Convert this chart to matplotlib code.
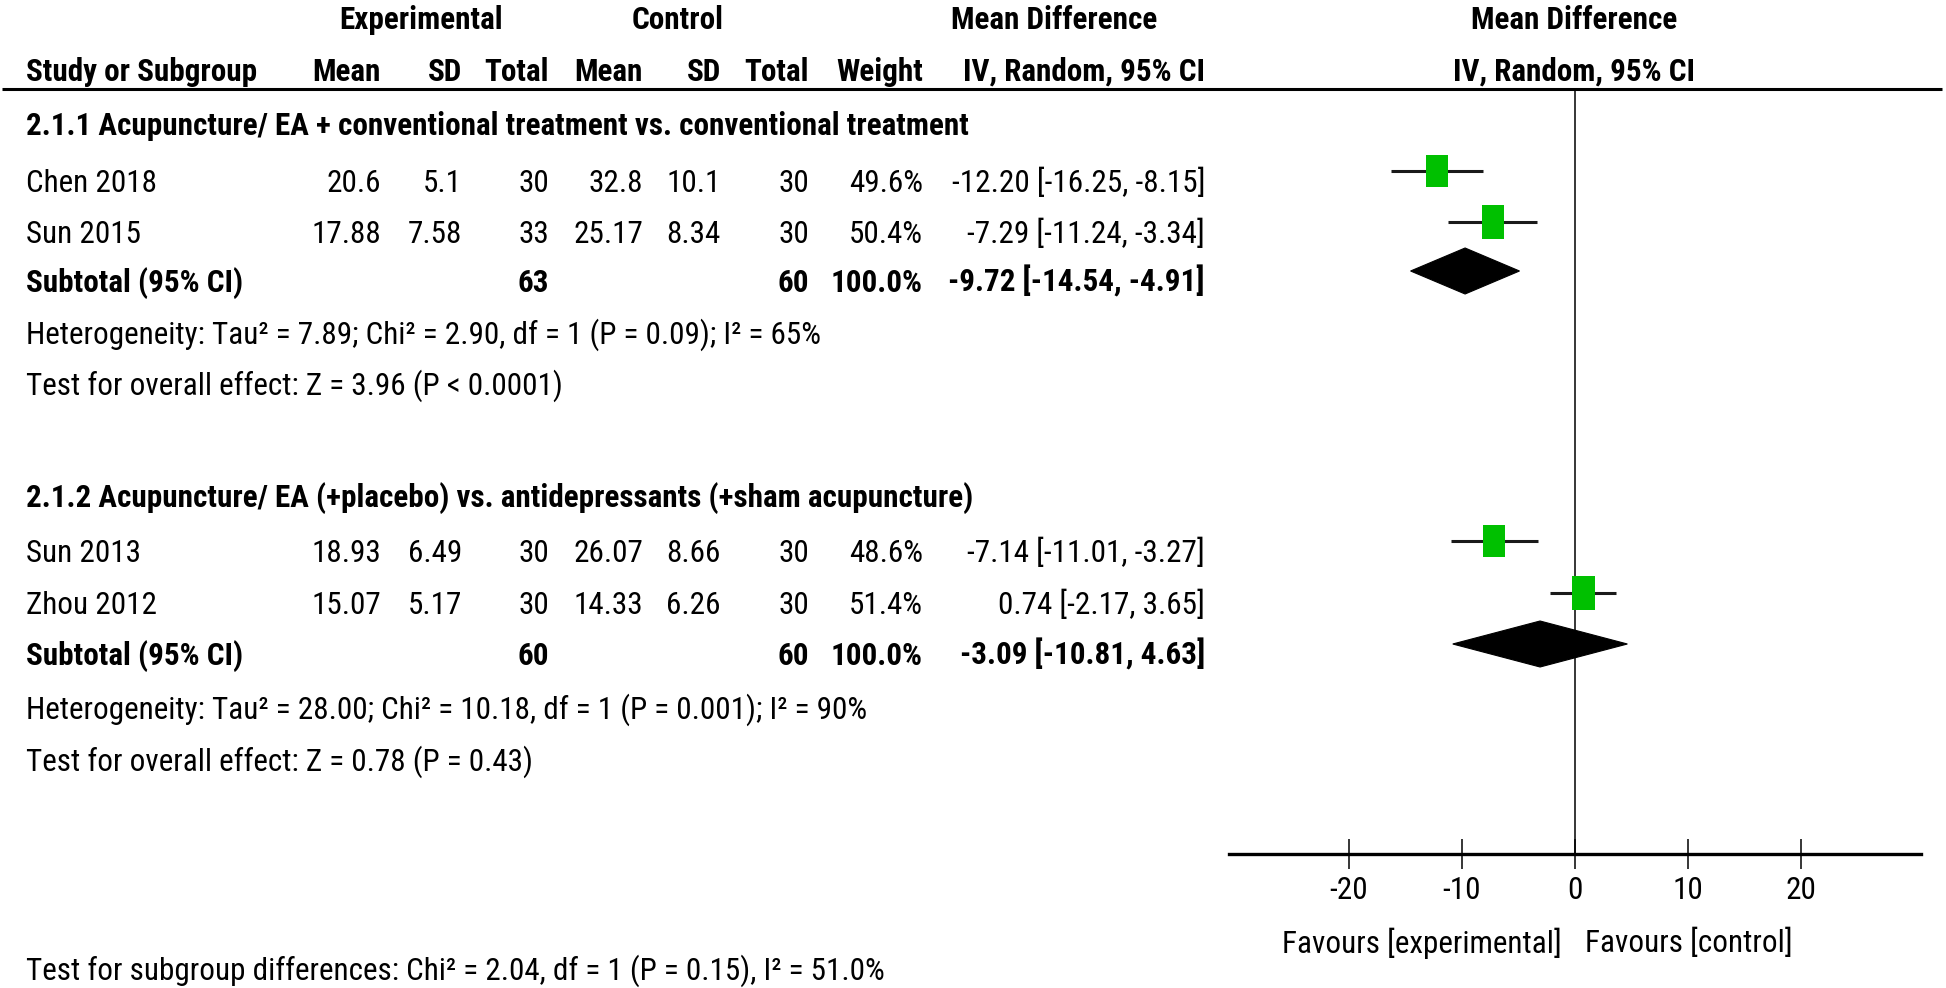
import matplotlib
matplotlib.use("Agg")
import matplotlib.pyplot as plt
from matplotlib import font_manager
from matplotlib.patches import Rectangle, Polygon

# ── Data ─────────────────────────────────────────────────────────────────────
studies   = ["Chen 2018", "Sun 2015", "Sun 2013", "Zhou 2012"]
exp_mean  = ["20.6", "17.88", "18.93", "15.07"]
exp_sd    = ["5.1", "7.58", "6.49", "5.17"]
exp_n     = [30, 33, 30, 30]
ctl_mean  = ["32.8", "25.17", "26.07", "14.33"]
ctl_sd    = ["10.1", "8.34", "8.66", "6.26"]
ctl_n     = [30, 30, 30, 30]
weight    = [49.6, 50.4, 48.6, 51.4]
md        = [-12.20, -7.29, -7.14, 0.74]
ci_lo     = [-16.25, -11.24, -11.01, -2.17]
ci_hi     = [-8.15, -3.34, -3.27, 3.65]

groups      = [
    "2.1.1 Acupuncture/ EA + conventional treatment vs. conventional treatment",
    "2.1.2 Acupuncture/ EA (+placebo) vs. antidepressants (+sham acupuncture)",
]
sub_exp_n   = [63, 60]
sub_ctl_n   = [60, 60]
sub_md      = [-9.72, -3.09]
sub_lo      = [-14.54, -10.81]
sub_hi      = [-4.91, 4.63]
heterogeneity = [
    "Heterogeneity: Tau² = 7.89; Chi² = 2.90, df = 1 (P = 0.09); I² = 65%",
    "Heterogeneity: Tau² = 28.00; Chi² = 10.18, df = 1 (P = 0.001); I² = 90%",
]
overall = [
    "Test for overall effect: Z = 3.96 (P < 0.0001)",
    "Test for overall effect: Z = 0.78 (P = 0.43)",
]
subgroup_test = "Test for subgroup differences: Chi² = 2.04, df = 1 (P = 0.15), I² = 51.0%"

x_ticks = [-20, -10, 0, 10, 20]
favours = ["Favours [experimental]", "Favours [control]"]

# ── Layout (pixel rows / columns of the 1946x988 canvas) ─────────────────────
W, H = 1946, 988
STUDY_BASE = [192, 243, 562, 614]
TITLE_BASE = [135, 507]
SUB_BASE   = [292, 665]
HET_BASE   = [344, 719]
TEST_BASE  = [395, 771]
SUBTEST_BASE = 980
MARK_SHIFT = -21          # markers sit a little above the text centre

COL_RIGHT = [381, 462, 549, 643, 721, 809, 923, 1205]
LEFT_X    = 26
HDR_LINE_Y = 89
AX_LEFT, AX_RIGHT, AX_Y = 1229, 1921, 854
XLIM = (-30.6, 30.6)
HET_WIDTH_PX = 795        # width of the first heterogeneity line in the image

GREEN = "#00c000"
INK   = "#000000"

# RevMan uses a narrow sans; take a narrow face if one is installed
available = {f.name for f in font_manager.fontManager.ttflist}
FONT = "Liberation Sans"
for cand in ["Liberation Sans Narrow", "Arial Narrow", "Roboto Condensed",
             "Noto Sans Condensed", "Open Sans Condensed"]:
    if cand in available:
        FONT = cand
        break
plt.rcParams["font.family"] = [FONT, "DejaVu Sans"]
plt.rcParams["axes.unicode_minus"] = False

fig = plt.figure(figsize=(W / 100, H / 100), dpi=100)
fig.patch.set_facecolor("white")

# pick the font size so the text runs as wide as in the original
probe = fig.text(0, 0, heterogeneity[0], fontsize=20)
probe_w = probe.get_window_extent(fig.canvas.get_renderer()).width
probe.remove()
FS = 20 * HET_WIDTH_PX / probe_w

# background axes in pixel coordinates for the table part
ax = fig.add_axes([0, 0, 1, 1])
ax.set_xlim(0, W)
ax.set_ylim(H, 0)
ax.axis("off")


def txt(x, y, s, ha="left", bold=False, **kw):
    ax.text(x, y, s, ha=ha, va="baseline", fontsize=FS, color=INK,
            fontweight="bold" if bold else "normal", **kw)


# ── Header ──────────────────────────────────────────────────────────────────
txt(421, 29, "Experimental", ha="center", bold=True)
txt(678, 29, "Control", ha="center", bold=True)
txt(951, 29, "Mean Difference", bold=True)
txt(1574, 29, "Mean Difference", ha="center", bold=True)

txt(LEFT_X, 81, "Study or Subgroup", bold=True)
for x, s in zip(COL_RIGHT, ["Mean", "SD", "Total", "Mean", "SD", "Total",
                            "Weight", "IV, Random, 95% CI"]):
    txt(x, 81, s, ha="right", bold=True)
txt(1574, 81, "IV, Random, 95% CI", ha="center", bold=True)

ax.plot([2, 1942], [HDR_LINE_Y, HDR_LINE_Y], color=INK, lw=2.2,
        solid_capstyle="butt")

# ── Table rows ──────────────────────────────────────────────────────────────
for i, name in enumerate(studies):
    y = STUDY_BASE[i]
    txt(LEFT_X, y, name)
    cells = [exp_mean[i], exp_sd[i], str(exp_n[i]), ctl_mean[i], ctl_sd[i],
             str(ctl_n[i]), f"{weight[i]:.1f}%",
             f"{md[i]:.2f} [{ci_lo[i]:.2f}, {ci_hi[i]:.2f}]"]
    for x, s in zip(COL_RIGHT, cells):
        txt(x, y, s, ha="right")

for g, title in enumerate(groups):
    txt(LEFT_X, TITLE_BASE[g], title, bold=True)
    y = SUB_BASE[g]
    txt(LEFT_X, y, "Subtotal (95% CI)", bold=True)
    txt(COL_RIGHT[2], y, str(sub_exp_n[g]), ha="right", bold=True)
    txt(COL_RIGHT[5], y, str(sub_ctl_n[g]), ha="right", bold=True)
    txt(COL_RIGHT[6], y, "100.0%", ha="right", bold=True)
    txt(COL_RIGHT[7], y, f"{sub_md[g]:.2f} [{sub_lo[g]:.2f}, {sub_hi[g]:.2f}]",
        ha="right", bold=True)
    txt(LEFT_X, HET_BASE[g], heterogeneity[g])
    txt(LEFT_X, TEST_BASE[g], overall[g])

txt(LEFT_X, SUBTEST_BASE, subgroup_test)

# ── Forest plot axes: x in mean-difference units, y in pixel rows ────────────
fx = fig.add_axes([AX_LEFT / W, (H - AX_Y) / H,
                   (AX_RIGHT - AX_LEFT) / W, (AX_Y - HDR_LINE_Y) / H])
fx.set_xlim(*XLIM)
fx.set_ylim(AX_Y, HDR_LINE_Y)
fx.patch.set_alpha(0)
for side in ("top", "left", "right"):
    fx.spines[side].set_visible(False)
fx.spines["bottom"].set_linewidth(2.4)
fx.set_yticks([])
fx.set_xticks(x_ticks)
fx.set_xticklabels([str(t) for t in x_ticks])
fx.tick_params(axis="x", direction="inout", length=21, width=1.1,
               pad=5, labelsize=FS, colors=INK)

fx.axvline(0, color=INK, lw=1.1)

SQ_W = 22 / ((AX_RIGHT - AX_LEFT) / (XLIM[1] - XLIM[0]))   # px -> data units
SQ_H = 33
for i in range(len(studies)):
    y = STUDY_BASE[i] + MARK_SHIFT
    fx.plot([ci_lo[i], ci_hi[i]], [y, y], color="#1a1a1a", lw=2.2,
            solid_capstyle="butt", zorder=2)
    s = (weight[i] / 50.0) ** 0.5
    fx.add_patch(Rectangle((md[i] - SQ_W * s / 2, y - SQ_H * s / 2),
                           SQ_W * s, SQ_H * s, facecolor=GREEN,
                           edgecolor="none", zorder=3))

for g in range(len(groups)):
    y = SUB_BASE[g] + MARK_SHIFT
    fx.add_patch(Polygon([(sub_lo[g], y), (sub_md[g], y - 23),
                          (sub_hi[g], y), (sub_md[g], y + 23)],
                         closed=True, facecolor=INK, edgecolor=INK, lw=0.8,
                         zorder=3))

fx.text(-1.2, 943, favours[0], ha="right", va="center", fontsize=FS,
        color=INK, clip_on=False)
fx.text(0.9, 943, favours[1], ha="left", va="center", fontsize=FS,
        color=INK, clip_on=False)

fig.savefig("out.png", dpi=100, facecolor="white")
